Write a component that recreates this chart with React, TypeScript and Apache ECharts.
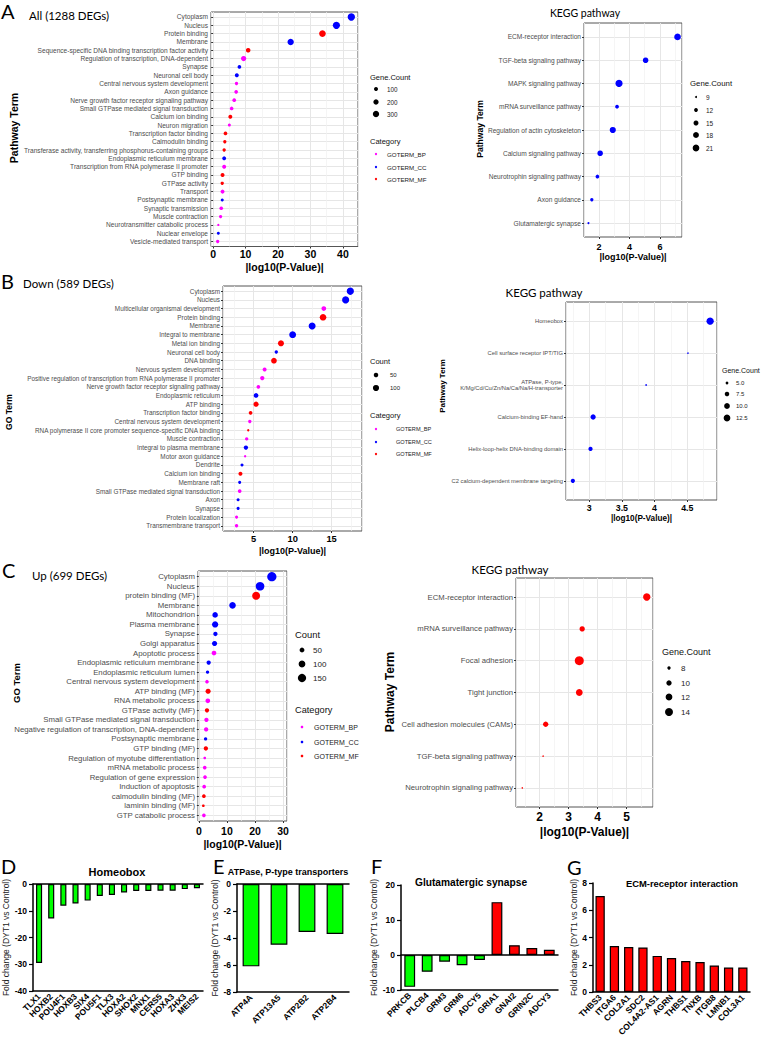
import React, { useEffect, useRef } from "react";
import * as echarts from "echarts";

const W = 762;
const H = 1039;
const FONT = "'Liberation Sans', Arial, sans-serif";
const HEAD = "Lato, 'Open Sans', sans-serif";
const CAT_COLORS: Record<string, string> = { BP: "#ff00ff", CC: "#0000ff", MF: "#ff0000" };
const GREEN = "#00ff00";
const RED = "#ff0000";

// ---------- Panel A : All (1288 DEGs), GO ----------
const aTerms = [
  "Cytoplasm", "Nucleus", "Protein binding", "Membrane",
  "Sequence-specific DNA binding transcription factor activity",
  "Regulation of transcription, DNA-dependent", "Synapse", "Neuronal cell body",
  "Central nervous system development", "Axon guidance",
  "Nerve growth factor receptor signaling pathway", "Small GTPase mediated signal transduction",
  "Calcium ion binding", "Neuron migration", "Transcription factor binding", "Calmodulin binding",
  "Transferase activity, transferring phosphorus-containing groups", "Endoplasmic reticulum membrane",
  "Transcription from RNA polymerase II promoter", "GTP binding", "GTPase activity", "Transport",
  "Postsynaptic membrane", "Synaptic transmission", "Muscle contraction",
  "Neurotransmitter catabolic process", "Nuclear envelope", "Vesicle-mediated transport",
];
const aLogP = [42.6, 38.0, 33.7, 23.9, 10.8, 9.4, 8.1, 7.3, 7.2, 7.1, 6.5, 5.7, 5.3, 5.0, 3.8, 3.6, 3.4, 3.4, 3.4, 2.9, 2.8, 2.9, 2.8, 2.5, 2.3, 1.6, 1.6, 1.4];
const aCount = [410, 390, 330, 300, 140, 200, 80, 100, 60, 80, 80, 80, 100, 45, 80, 60, 60, 100, 100, 100, 60, 100, 45, 80, 60, 15, 45, 60];
const aCat = ["CC", "CC", "MF", "CC", "MF", "BP", "CC", "CC", "BP", "BP", "BP", "BP", "MF", "BP", "MF", "MF", "MF", "CC", "BP", "MF", "MF", "BP", "CC", "BP", "BP", "BP", "CC", "BP"];
const aBreaks = [100, 200, 300];

// ---------- Panel A : KEGG ----------
const akTerms = [
  "ECM-receptor interaction", "TGF-beta signaling pathway", "MAPK signaling pathway",
  "mRNA surveillance pathway", "Regulation of actin cytoskeleton", "Calcium signaling pathway",
  "Neurotrophin signaling pathway", "Axon guidance", "Glutamatergic synapse",
];
const akLogP = [7.16, 5.06, 3.31, 3.18, 2.9, 2.07, 1.89, 1.52, 1.3];
const akCount = [21, 17, 23, 12, 19, 17, 12, 11, 9];
const akBreaks = [9, 12, 15, 18, 21];

// ---------- Panel B : Down (589 DEGs), GO ----------
const bTerms = [
  "Cytoplasm", "Nucleus", "Multicellular organismal development", "Protein binding", "Membrane",
  "Integral to membrane", "Metal ion binding", "Neuronal cell body", "DNA binding",
  "Nervous system development", "Positive regulation of transcription from RNA polymerase II promoter",
  "Nerve growth factor receptor signaling pathway", "Endoplasmic reticulum", "ATP binding",
  "Transcription factor binding", "Central nervous system development",
  "RNA polymerase II core promoter sequence-specific DNA binding", "Muscle contraction",
  "Integral to plasma membrane", "Motor axon guidance", "Dendrite", "Calcium ion binding",
  "Membrane raft", "Small GTPase mediated signal transduction", "Axon", "Synapse",
  "Protein localization", "Transmembrane transport",
];
const bLogP = [17.4, 16.8, 14.0, 13.9, 12.5, 10.0, 8.5, 7.9, 7.6, 6.4, 6.1, 5.6, 5.3, 5.3, 4.6, 4.5, 4.3, 4.1, 4.0, 3.9, 3.5, 3.3, 3.2, 3.2, 3.0, 3.0, 2.8, 2.8];
const bCount = [140, 135, 55, 115, 130, 125, 94, 24, 84, 38, 45, 32, 55, 70, 32, 25, 9, 25, 45, 9, 20, 38, 20, 32, 20, 20, 20, 25];
const bCat = ["CC", "CC", "BP", "MF", "CC", "CC", "MF", "CC", "MF", "BP", "BP", "BP", "CC", "MF", "MF", "BP", "MF", "BP", "CC", "BP", "CC", "MF", "CC", "BP", "CC", "CC", "BP", "BP"];
const bBreaks = [50, 100];

// ---------- Panel B : KEGG ----------
const bkTerms = [
  "Homeobox", "Cell surface receptor IPT/TIG",
  "ATPase, P-type,\nK/Mg/Cd/Cu/Zn/Na/Ca/Na/H-transporter",
  "Calcium-binding EF-hand", "Helix-loop-helix DNA-binding domain",
  "C2 calcium-dependent membrane targeting",
];
const bkLogP = [4.85, 4.51, 3.87, 3.06, 3.02, 2.75];
const bkCount = [14, 4, 4, 9, 7, 7];
const bkBreaks = [5.0, 7.5, 10.0, 12.5];

// ---------- Panel C : Up (699 DEGs), GO ----------
const cTerms = [
  "Cytoplasm", "Nucleus", "protein binding (MF)", "Membrane", "Mitochondrion", "Plasma membrane",
  "Synapse", "Golgi apparatus", "Apoptotic process", "Endoplasmic reticulum membrane",
  "Endoplasmic reticulum lumen", "Central nervous system development", "ATP binding (MF)",
  "RNA metabolic process", "GTPase activity (MF)", "Small GTPase mediated signal transduction",
  "Negative regulation of transcription, DNA-dependent", "Postsynaptic membrane", "GTP binding (MF)",
  "Regulation of myotube differentiation", "mRNA metabolic process", "Regulation of gene expression",
  "Induction of apoptosis", "calmodulin binding (MF)", "laminin binding (MF)", "GTP catabolic process",
];
const cLogP = [26.0, 21.8, 20.4, 12.0, 5.8, 5.8, 5.9, 5.6, 5.4, 3.5, 3.1, 2.9, 3.3, 3.2, 2.9, 2.7, 2.6, 2.4, 2.5, 2.1, 2.1, 2.2, 1.9, 1.8, 1.6, 1.8];
const cCount = [190, 165, 140, 95, 65, 85, 38, 55, 46, 38, 21, 25, 55, 46, 38, 38, 38, 21, 38, 12, 27, 27, 27, 27, 12, 27];
const cCat = ["CC", "CC", "MF", "CC", "CC", "CC", "CC", "CC", "BP", "CC", "CC", "BP", "MF", "BP", "MF", "BP", "BP", "CC", "MF", "BP", "BP", "BP", "BP", "MF", "MF", "BP"];
const cBreaks = [50, 100, 150];

// ---------- Panel C : KEGG ----------
const ckTerms = [
  "ECM-receptor interaction", "mRNA surveillance pathway", "Focal adhesion", "Tight junction",
  "Cell adhesion molecules (CAMs)", "TGF-beta signaling pathway", "Neurotrophin signaling pathway",
];
const ckLogP = [5.7, 3.47, 3.37, 3.37, 2.21, 2.12, 1.4];
const ckCount = [13, 10, 16, 12, 10, 7, 7];
const ckBreaks = [8, 10, 12, 14];

// ---------- Bar panels ----------
const dGenes = ["TLX1", "HOXB2", "POU4F1", "HOXB3", "SIX4", "POU5F1", "TLX3", "HOXA2", "SHOX2", "MNX1", "CERS5", "HOXA3", "ZHX3", "MEIS2"];
const dFC = [-29.5, -12.9, -8.1, -7.3, -6.2, -4.5, -4.1, -3.2, -2.6, -2.6, -2.5, -2.5, -1.9, -1.6];
const eGenes = ["ATP4A", "ATP13A5", "ATP2B2", "ATP2B4"];
const eFC = [-6.1, -4.5, -3.55, -3.7];
const fGenes = ["PRKCB", "PLCB4", "GRM3", "GRM6", "ADCY5", "GRIA1", "GNAI2", "GRIN2C", "ADCY3"];
const fFC = [-9.1, -4.8, -1.9, -2.9, -1.4, 15.1, 2.8, 2.0, 1.5];
const gGenes = ["THBS3", "ITGA6", "COL2A1", "SDC2", "COL4A2-AS1", "AGRN", "THBS1", "TNXB", "ITGB8", "LMNB1", "COL3A1"];
const gFC = [7.05, 3.38, 3.3, 3.27, 2.65, 2.5, 2.28, 2.2, 1.95, 1.8, 1.8];

type Opt = { grid: any[]; xAxis: any[]; yAxis: any[]; series: any[]; graphic: any[] };

function dot(c: number, a: number, b: number) {
  return Math.sqrt(Math.max(a * c + b, 2.2));
}

interface DotCfg {
  left: number; top: number; width: number; height: number;
  terms: string[]; vals: number[]; counts: number[]; cats: string[] | null; color?: string;
  xMin: number; xMax: number; split: number; sa: number; sb: number;
  labelSize: number; tickSize: number; tickMargin: number; titleSize: number; titleGap: number;
}

function addDot(o: Opt, c: DotCfg) {
  const g = o.grid.length;
  const n = c.terms.length;
  const band = c.height / (n + 0.2);
  o.grid.push({
    left: c.left, top: c.top, width: c.width, height: c.height, show: true,
    borderColor: "#555", borderWidth: 1, backgroundColor: "rgba(0,0,0,0)",
    containLabel: false, outerBoundsMode: "none",
  });
  o.grid.push({
    left: c.left, top: c.top + 0.6 * band, width: c.width, height: c.height - 1.2 * band,
    containLabel: false, outerBoundsMode: "none",
  });
  const xb = o.xAxis.length;
  o.xAxis.push({
    gridIndex: g, type: "value", min: c.xMin, max: c.xMax, splitNumber: c.split,
    axisLine: { show: false },
    axisTick: { show: true, length: 2, lineStyle: { color: "#333" } },
    axisLabel: {
      showMinLabel: false, showMaxLabel: false, color: "#000", fontWeight: "bold",
      fontSize: c.tickSize, fontFamily: FONT, margin: c.tickMargin,
    },
    splitLine: { show: true, lineStyle: { color: "#e6e6e6", width: 1 } },
    minorTick: { show: false, splitNumber: 2 },
    minorSplitLine: { show: true, lineStyle: { color: "#f0f0f0", width: 0.7 } },
    name: "|log10(P-Value)|", nameLocation: "middle", nameGap: c.titleGap,
    nameTextStyle: { fontSize: c.titleSize, fontWeight: "bold", color: "#000", fontFamily: FONT },
  });
  o.xAxis.push({ gridIndex: g + 1, type: "value", min: c.xMin, max: c.xMax, show: false });
  const yb = o.yAxis.length;
  o.yAxis.push({ gridIndex: g, type: "value", min: 0, max: 1, show: false });
  o.yAxis.push({
    gridIndex: g + 1, type: "category", data: c.terms, inverse: true, boundaryGap: false,
    axisLine: { show: false },
    axisTick: { show: true, length: 2, lineStyle: { color: "#333" } },
    axisLabel: { interval: 0, fontSize: c.labelSize, color: "#4d4d4d", fontFamily: FONT, margin: 3, lineHeight: c.labelSize * 1.15 },
    splitLine: { show: true, lineStyle: { color: "#e6e6e6", width: 1 } },
  });
  const groups = c.cats ? ["BP", "CC", "MF"] : ["ALL"];
  groups.forEach((k) => {
    const data = c.terms
      .map((t, i) => [c.vals[i], t, c.counts[i], c.cats ? c.cats[i] : "ALL"])
      .filter((d) => d[3] === k);
    if (!data.length) return;
    o.series.push({
      type: "scatter", xAxisIndex: xb + 1, yAxisIndex: yb + 1, data,
      symbol: "circle",
      symbolSize: (v: any) => dot(v[2], c.sa, c.sb),
      itemStyle: { color: c.cats ? CAT_COLORS[k] : c.color, opacity: 1 },
      silent: true,
    });
  });
}

interface BarCfg {
  left: number; top: number; width: number; height: number;
  genes: string[]; vals: number[]; min: number; max: number; interval: number;
  barWidth: string; zero: boolean; nameGap: number;
}

function addBar(o: Opt, b: BarCfg) {
  const g = o.grid.length;
  o.grid.push({ left: b.left, top: b.top, width: b.width, height: b.height, containLabel: false, outerBoundsMode: "none" });
  const ax = { color: "#000", width: 1.5 };
  const xi = o.xAxis.length;
  o.xAxis.push({
    gridIndex: g, type: "category", data: b.genes, position: "bottom",
    axisLine: { onZero: false, lineStyle: ax },
    axisTick: { alignWithLabel: true, length: 3, lineStyle: { color: "#000", width: 1.2 } },
    axisLabel: { interval: 0, rotate: 45, fontSize: 8.5, fontWeight: "bold", color: "#000", fontFamily: FONT, margin: 4 },
  });
  if (b.zero) {
    o.xAxis.push({
      gridIndex: g, type: "category", data: b.genes, position: "top",
      axisLine: { onZero: true, lineStyle: ax }, axisTick: { show: false }, axisLabel: { show: false },
    });
  }
  const yi = o.yAxis.length;
  o.yAxis.push({
    gridIndex: g, type: "value", min: b.min, max: b.max, interval: b.interval,
    axisLine: { show: true, onZero: false, lineStyle: ax },
    axisTick: { show: true, length: 4, lineStyle: { color: "#000", width: 1.2 } },
    axisLabel: { fontSize: 8.5, fontWeight: "bold", color: "#000", fontFamily: FONT, margin: 6 },
    splitLine: { show: false },
    name: "Fold change (DYT1 vs Control)", nameLocation: "middle", nameGap: b.nameGap,
    nameTextStyle: { fontSize: 8.5, color: "#222", fontFamily: FONT },
  });
  o.series.push({
    type: "bar", xAxisIndex: xi, yAxisIndex: yi, barWidth: b.barWidth,
    data: b.vals.map((v) => ({ value: v, itemStyle: { color: v < 0 ? GREEN : RED } })),
    itemStyle: { borderColor: "#000", borderWidth: 1.2 },
    silent: true,
  });
}

function txt(x: number, y: number, s: string, size: number, extra: any = {}) {
  const { family, weight, align, rotation, fill } = extra;
  return {
    type: "text", x, y, rotation: rotation || 0, silent: true,
    style: {
      text: s, fontSize: size, fontFamily: family || FONT, fontWeight: weight || "normal",
      fill: fill || "#000", align: align || "left", verticalAlign: "middle",
    },
  };
}
function circ(cx: number, cy: number, d: number, fill = "#000") {
  return { type: "circle", silent: true, shape: { cx, cy, r: d / 2 }, style: { fill } };
}

function sizeLegend(o: Opt, title: string, tx: number, ty: number, tSize: number,
  breaks: number[], labels: string[], ys: number[], dx: number, lx: number, lSize: number, a: number, b: number) {
  o.graphic.push(txt(tx, ty, title, tSize, { fill: "#111" }));
  breaks.forEach((v, i) => {
    o.graphic.push(circ(dx, ys[i], dot(v, a, b)));
    o.graphic.push(txt(lx, ys[i], labels[i], lSize, { fill: "#222" }));
  });
}
function catLegend(o: Opt, tx: number, ty: number, tSize: number, ys: number[], dx: number, lx: number, lSize: number, d: number) {
  o.graphic.push(txt(tx, ty, "Category", tSize, { fill: "#111" }));
  ["BP", "CC", "MF"].forEach((k, i) => {
    o.graphic.push(circ(dx, ys[i], d, CAT_COLORS[k]));
    o.graphic.push(txt(lx, ys[i], "GOTERM_" + k, lSize, { fill: "#222" }));
  });
}

function buildOption() {
  const o: Opt = { grid: [], xAxis: [], yAxis: [], series: [], graphic: [] };

  // A
  addDot(o, { left: 211, top: 12, width: 147, height: 234.5, terms: aTerms, vals: aLogP, counts: aCount, cats: aCat,
    xMin: -0.66, xMax: 44.66, split: 5, sa: 0.1247, sb: 3.43, labelSize: 6.6, tickSize: 10.5, tickMargin: 1.5, titleSize: 10.5, titleGap: 14.5 });
  addDot(o, { left: 584, top: 23, width: 98, height: 214, terms: akTerms, vals: akLogP, counts: akCount, cats: null, color: "#0000ff",
    xMin: 1.007, xMax: 7.453, split: 3, sa: 3.408, sb: -26.7, labelSize: 6.6, tickSize: 9, tickMargin: 5, titleSize: 9, titleGap: 15.5 });
  // B
  addDot(o, { left: 223, top: 286, width: 139, height: 245, terms: bTerms, vals: bLogP, counts: bCount, cats: bCat,
    xMin: 1.06, xMax: 18.9, split: 4, sa: 0.3603, sb: 2.2, labelSize: 6.4, tickSize: 9.3, tickMargin: 3, titleSize: 9, titleGap: 15.5 });
  addDot(o, { left: 566, top: 302, width: 151, height: 198, terms: bkTerms, vals: bkLogP, counts: bkCount, cats: null, color: "#0000ff",
    xMin: 2.645, xMax: 4.955, split: 5, sa: 5.07, sb: -17.7, labelSize: 5.8, tickSize: 8.8, tickMargin: 3.5, titleSize: 8.2, titleGap: 14.7 });
  // C
  addDot(o, { left: 198, top: 571, width: 89, height: 250, terms: cTerms, vals: cLogP, counts: cCount, cats: cCat,
    xMin: -0.3, xMax: 31.4, split: 3, sa: 0.4421, sb: 1.83, labelSize: 7.8, tickSize: 10.5, tickMargin: 4.5, titleSize: 10.5, titleGap: 17 });
  addDot(o, { left: 516, top: 578, width: 137, height: 229, terms: ckTerms, vals: ckLogP, counts: ckCount, cats: null, color: "#ff0000",
    xMin: 1.185, xMax: 5.915, split: 5, sa: 8.8, sb: -59.5, labelSize: 7.7, tickSize: 12, tickMargin: 3.5, titleSize: 12, titleGap: 18.5 });

  // Bars
  addBar(o, { left: 33, top: 884, width: 170, height: 107, genes: dGenes, vals: dFC, min: -40, max: 0, interval: 10, barWidth: "50%", zero: true, nameGap: 20 });
  addBar(o, { left: 237, top: 884, width: 112, height: 108, genes: eGenes, vals: eFC, min: -8, max: 0, interval: 2, barWidth: "60%", zero: true, nameGap: 11 });
  addBar(o, { left: 401, top: 885, width: 157, height: 105, genes: fGenes, vals: fFC, min: -10, max: 20, interval: 10, barWidth: "62%", zero: true, nameGap: 22 });
  addBar(o, { left: 593, top: 883, width: 157, height: 109, genes: gGenes, vals: gFC, min: 0, max: 8, interval: 2, barWidth: "65%", zero: false, nameGap: 13 });

  // Panel letters & headings
  const L = { family: HEAD };
  o.graphic.push(txt(1, 11, "A", 20, L));
  o.graphic.push(txt(29, 15, "All (1288 DEGs)", 11.5, L));
  o.graphic.push(txt(585, 13, "KEGG pathway", 10.5, { family: HEAD, align: "center" }));
  o.graphic.push(txt(1, 281, "B", 20, L));
  o.graphic.push(txt(23, 283, "Down (589 DEGs)", 11.5, L));
  o.graphic.push(txt(544, 292, "KEGG pathway", 11.5, { family: HEAD, align: "center" }));
  o.graphic.push(txt(2, 570, "C", 20, L));
  o.graphic.push(txt(32, 575, "Up (699 DEGs)", 11.5, L));
  o.graphic.push(txt(510, 569, "KEGG pathway", 11.5, { family: HEAD, align: "center" }));
  o.graphic.push(txt(1, 866, "D", 20, L));
  o.graphic.push(txt(213, 866, "E", 20, L));
  o.graphic.push(txt(371, 866, "F", 20, L));
  o.graphic.push(txt(567, 867, "G", 20, L));
  o.graphic.push(txt(117, 872, "Homeobox", 11, { weight: "bold", align: "center" }));
  o.graphic.push(txt(288, 872, "ATPase, P-type transporters", 9, { weight: "bold", align: "center" }));
  o.graphic.push(txt(471, 882, "Glutamatergic synapse", 10.2, { weight: "bold", align: "center" }));
  o.graphic.push(txt(682, 883, "ECM-receptor interaction", 9.4, { weight: "bold", align: "center" }));

  // y-axis titles of dot plots
  const R = Math.PI / 2;
  o.graphic.push(txt(14, 128, "Pathway Term", 10.5, { weight: "bold", align: "center", rotation: R }));
  o.graphic.push(txt(480, 129, "Pathway Term", 8.6, { weight: "bold", align: "center", rotation: R }));
  o.graphic.push(txt(9, 412, "GO Term", 8.5, { weight: "bold", align: "center", rotation: R }));
  o.graphic.push(txt(442, 386, "Pathway Term", 8, { weight: "bold", align: "center", rotation: R }));
  o.graphic.push(txt(16, 683, "GO Term", 9.5, { weight: "bold", align: "center", rotation: R }));
  o.graphic.push(txt(390, 692, "Pathway Term", 12, { weight: "bold", align: "center", rotation: R }));

  // Legends
  sizeLegend(o, "Gene.Count", 370, 77, 7.5, aBreaks, aBreaks.map(String), [89, 102, 114], 376, 387, 6.3, 0.1247, 3.43);
  catLegend(o, 370, 141, 7.5, [154, 167, 179], 376, 387, 6.2, 2.3);
  sizeLegend(o, "Gene.Count", 690, 83, 7.8, akBreaks, akBreaks.map(String), [97, 110, 123, 135, 148], 696, 706, 6.5, 3.408, -26.7);

  sizeLegend(o, "Count", 370, 361, 7.5, bBreaks, bBreaks.map(String), [375, 388], 376, 390, 6, 0.3603, 2.2);
  catLegend(o, 370, 415, 7.5, [429, 442, 454], 376, 396, 5.6, 2.3);
  sizeLegend(o, "Gene.Count", 722, 370, 7, bkBreaks, bkBreaks.map((v) => v.toFixed(1)), [383, 394, 406, 418], 727, 736, 6, 5.07, -17.7);

  sizeLegend(o, "Count", 295, 634, 9.4, cBreaks, cBreaks.map(String), [650, 664, 678], 302, 313, 8, 0.4421, 1.83);
  catLegend(o, 295, 710, 9.2, [727, 742, 756], 302, 314, 7, 2.6);
  sizeLegend(o, "Gene.Count", 662, 652, 9, ckBreaks, ckBreaks.map(String), [668, 683, 697, 712], 669, 681, 8, 8.8, -59.5);

  return {
    animation: false,
    backgroundColor: "#ffffff",
    textStyle: { fontFamily: FONT },
    grid: o.grid,
    xAxis: o.xAxis,
    yAxis: o.yAxis,
    series: o.series,
    graphic: o.graphic,
  };
}

export default function App() {
  const ref = useRef<HTMLDivElement>(null);
  useEffect(() => {
    if (!ref.current) return;
    const chart = echarts.init(ref.current, null, { renderer: "svg", width: W, height: H });
    chart.setOption(buildOption() as any);
    return () => chart.dispose();
  }, []);
  return <div ref={ref} style={{ position: "absolute", left: 0, top: 0, width: W, height: H, background: "#fff" }} />;
}
